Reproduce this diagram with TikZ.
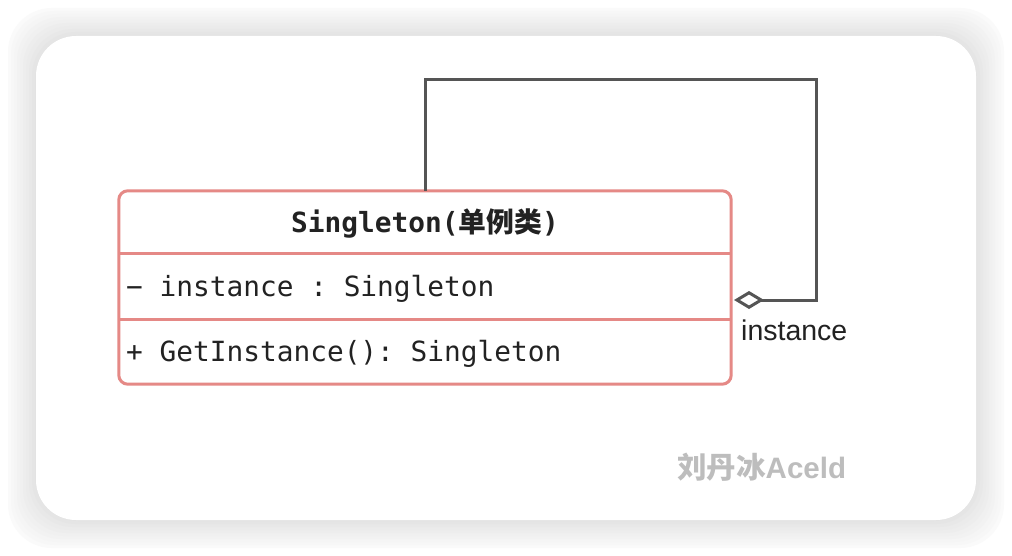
\documentclass[tikz,border=0pt]{standalone}
\usepackage{fontspec}
\setmainfont{Liberation Sans}
\setmonofont{DejaVu Sans Mono}
\newfontfamily\cjk{Noto Sans CJK SC}
\usepackage{xcolor}
\usetikzlibrary{arrows.meta,positioning,calc}

\definecolor{classred}{HTML}{E58986}
\definecolor{linegray}{HTML}{555555}
\definecolor{textdark}{HTML}{222222}
\definecolor{markgray}{HTML}{BDBDBD}

\begin{document}
\begin{tikzpicture}[x=1pt, y=-1pt]
  \tikzstyle{part}=[rectangle, minimum width=612pt, inner sep=0pt, text=textdark, font=\fontsize{27.8}{30}\selectfont\ttfamily]
  \tikzstyle{member}=[anchor=west, inner sep=0pt, text=textdark, font=\fontsize{27.8}{30}\selectfont\ttfamily]
  \tikzstyle{assoc}=[draw=linegray, line width=3pt]

  \useasboundingbox (0,0) rectangle (1012,556);

  % Hintergrund und Karte
  \fill[white] (0,0) rectangle (1012,556);
  \foreach \d/\g in {28/2,25/3,22/4,19/5,16/6,13/7,10/8,7/9,4/10,1/11}
    \fill[black!\g, rounded corners=44pt] (36-\d,36-\d) rectangle (976+\d,520+\d);
  \fill[white, rounded corners=40pt] (36,36) rectangle (976,520);

  % Klasse
  \node[part, minimum height=64pt] (title) at (425,223) {\bfseries Singleton({\cjk 单例类})};
  \node[part, minimum height=66pt] (attr) at (425,287) {};
  \node[part, minimum height=64pt] (meth) at (425,352) {};
  \node[member] (attrtext) at (126,289) {− instance : Singleton};
  \node[member] (methtext) at (126,354) {+ GetInstance(): Singleton};
  \draw[classred, line width=3pt, rounded corners=9pt] (title.north west) rectangle (meth.south east);
  \draw[classred, line width=3pt] (attr.north west) -- (attr.north east);
  \draw[classred, line width=3pt] (meth.north west) -- (meth.north east);

  % Selbstassoziation
  \coordinate (topright) at (816,80);
  \coordinate (tip) at (734,300);
  \draw[assoc, {Diamond[open, fill=white, length=30pt, width=18pt, line width=3pt]}-]
    (tip) -- (tip -| topright) -- (topright) -| (title.north);
  \node[anchor=north west, inner sep=0pt, text=textdark, font=\fontsize{28.5}{30}\selectfont] (role) at (741,320) {instance};

  % Wasserzeichen
  \node[anchor=west, inner sep=0pt, text=markgray, font=\fontsize{29.5}{30}\selectfont\bfseries] (mark) at (677,467) {{\cjk 刘丹冰}Aceld};
\end{tikzpicture}
\end{document}
